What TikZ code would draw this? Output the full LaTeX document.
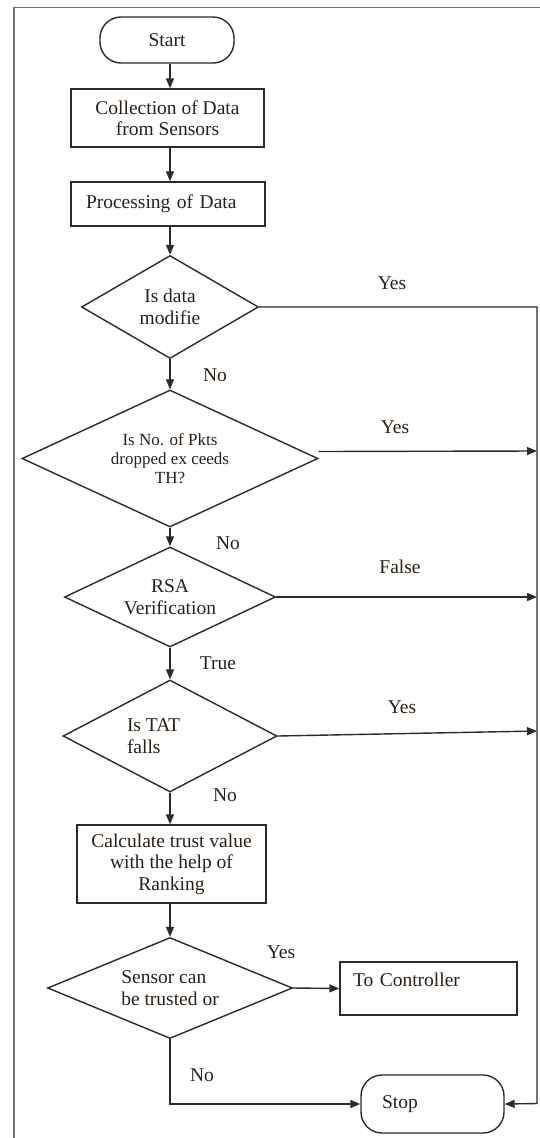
\documentclass[tikz,border=0pt]{standalone}
\usepackage{fontspec}
\setmainfont{Liberation Serif}
\usetikzlibrary{shapes.geometric,arrows.meta}
\definecolor{lnc}{HTML}{2B2B2B}
\definecolor{txt}{HTML}{2A2018}
\definecolor{framec}{HTML}{707070}
\begin{document}
\begin{tikzpicture}[x=1pt,y=-1pt,
  every node/.style={font=\fontsize{19.5}{21.5}\selectfont, text=txt},
  ln/.style={draw=lnc, line width=1.4pt},
  arr/.style={ln, -{Triangle[length=10pt,width=8pt]}},
  termst/.style={draw=lnc, line width=1.4pt, rectangle, rounded corners=21pt, inner sep=0pt},
  boxst/.style={draw=lnc, line width=1.4pt, rectangle, inner sep=0pt},
  decst/.style={draw=lnc, line width=1.4pt, diamond, inner sep=0pt, align=center},
  lbl/.style={inner sep=0pt}
]
\useasboundingbox (0,0) rectangle (540,1138);
% frame
\draw[framec, line width=1.6pt] (14,1138) -- (14,7.5) -- (540,7.5);

% nodes
\node[termst, minimum width=134pt, minimum height=46pt] (start) at (167,40) {Start};
\node[boxst, minimum width=193pt, minimum height=58pt, align=center] (coll) at (167.5,118) {Collection of Data\\from Sensors};
\node[boxst, minimum height=44pt, text width=164pt, inner xsep=15pt, align=left] (proc) at (168,204) {Processing of Data};
\node[decst, aspect=1.72, minimum width=177pt, minimum height=103pt] (d1) at (170,307) {Is data\\modifie};
\node[decst, aspect=2.16, minimum width=296pt, minimum height=137pt, font=\fontsize{17}{19}\selectfont] (d2) at (170,458.5) {Is No. of Pkts\\dropped ex ceeds\\TH?};
\node[decst, aspect=2.11, minimum width=211pt, minimum height=100pt] (d3) at (170,597) {RSA\\Verification};
\node[decst, aspect=1.91, minimum width=214pt, minimum height=112pt, align=left] (d4) at (170,736) {\makebox[86pt][l]{Is TAT}\\falls};
\node[boxst, minimum width=189pt, minimum height=78pt, align=center] (calc) at (171.5,864) {Calculate trust value\\with the help of\\Ranking};
\node[decst, aspect=2.43, minimum width=245pt, minimum height=101pt, align=left] (d5) at (170,988) {Sensor can\\be trusted or};
\node[boxst, minimum height=53pt, text width=151pt, inner xsep=13pt, align=left, text height=14pt, text depth=19pt] (ctrl) at (428.5,988.5) {To Controller};
\node[termst, minimum height=58pt, text width=101pt, inner xsep=21pt, align=left] (stop) at (432.5,1104) {Stop};

% right-hand collector
\coordinate (r1) at (537,307);
\coordinate (r2) at (537,451);
\coordinate (r3) at (537,597);
\coordinate (r4) at (537,731);
\coordinate (r5) at (537,1103.5);

% connectors
\draw[arr] (start.south -| d1) -- (coll.north -| d1);
\draw[arr] (coll.south -| d1) -- (proc.north -| d1);
\draw[arr] (proc.south -| d1) -- (d1.north);
\draw[arr] (d1.south) -- (d2.north);
\draw[arr] (d2.south) -- (d3.north);
\draw[arr] (d3.south) -- (d4.north);
\draw[arr] (d4.south) -- (calc.north -| d4);
\draw[arr] (calc.south -| d4) -- (d5.north);
\draw[arr] (d5.east) -- (ctrl.west);
\draw[arr] (d5.south) |- (stop.west);
\draw[arr] (d1.east) -- (r1) -- (r5) -- (stop.east);
\draw[arr] ([yshift=7pt]d2.east) -- (r2);
\draw[arr] (d3.east) -- (r3);
\draw[arr] (d4.east) -- (r4);

% labels
\node[lbl] (yes1) at (392,283) {Yes};
\node[lbl] (yes2) at (395,427) {Yes};
\node[lbl] (false3) at (400,567) {False};
\node[lbl] (yes4) at (402,707) {Yes};
\node[lbl] (yes5) at (281,952) {Yes};
\node[lbl] (no1) at (215,375) {No};
\node[lbl] (no2) at (228,543) {No};
\node[lbl] (true3) at (218,663) {True};
\node[lbl] (no4) at (225,795) {No};
\node[lbl] (no5) at (202,1075) {No};
\end{tikzpicture}
\end{document}
